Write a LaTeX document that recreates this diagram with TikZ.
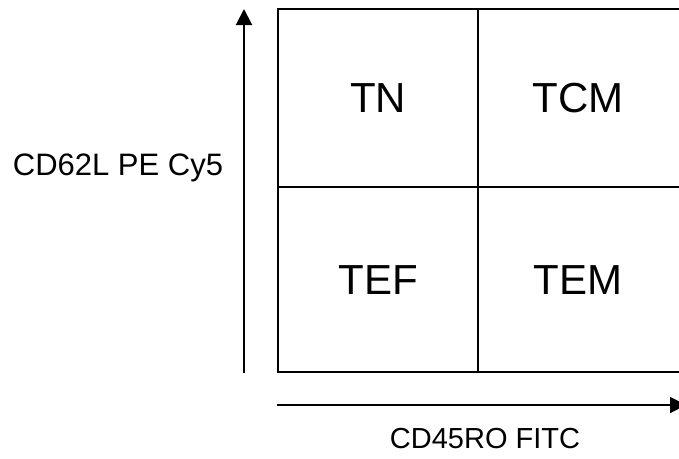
\documentclass[tikz,border=0pt]{standalone}
\usepackage{fontspec}
\setmainfont{Liberation Sans}
\usetikzlibrary{arrows.meta}

\begin{document}
\begin{tikzpicture}[x=1pt,y=-1pt]
  \useasboundingbox (0,0) rectangle (679,458);
  \coordinate (NW) at (278,9);
  \coordinate (SE) at (682,372);
  \coordinate (Ytail) at (244,373);
  \coordinate (Yhead) at (244,9);
  \coordinate (Xtail) at (277,405);
  \coordinate (Xhead) at (686,405);
  \draw[line width=2.6pt] (NW) rectangle (SE);
  \draw[line width=2.3pt] (478,9) -- (478,372);
  \draw[line width=2.3pt] (278,187) -- (682,187);
  \draw[line width=2pt,-{Triangle[length=16pt,width=16pt]}] (Ytail) -- (Yhead);
  \draw[line width=2pt,-{Triangle[length=16pt,width=16pt]}] (Xtail) -- (Xhead);
  \node (TN) at (378,98) {\fontsize{42}{50}\selectfont TN};
  \node (TCM) at (578,98) {\fontsize{42}{50}\selectfont TCM};
  \node (TEF) at (378,280) {\fontsize{42}{50}\selectfont TEF};
  \node (TEM) at (578,280) {\fontsize{42}{50}\selectfont TEM};
  \node (ylab) at (118,168) {\fontsize{31}{36}\selectfont CD62L PE Cy5};
  \node (xlab) at (485,439) {\fontsize{29}{34}\selectfont CD45RO FITC};
\end{tikzpicture}
\end{document}
